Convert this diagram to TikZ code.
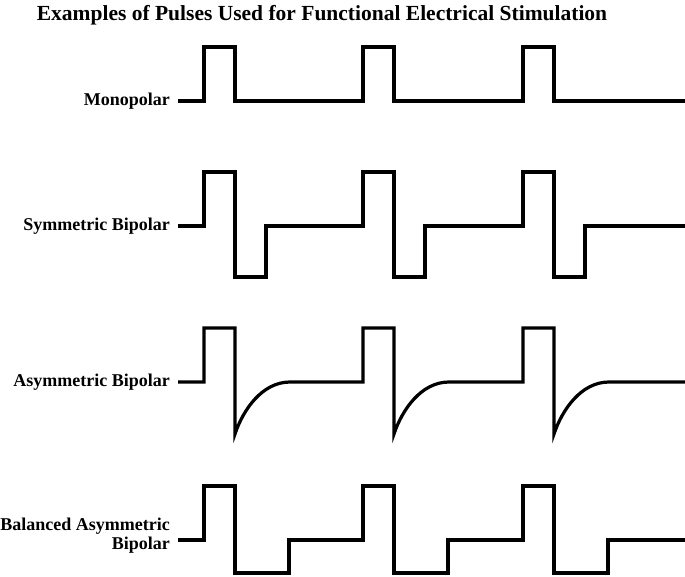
\documentclass[tikz,border=0pt]{standalone}
\usepackage{fontspec}
\setmainfont{Liberation Serif}
\usetikzlibrary{calc}

\tikzset{
  pulse/.style={line width=3.2pt, line join=miter},
  rowlabel/.style={anchor=east, font=\fontsize{18}{19}\selectfont\bfseries, inner sep=0pt, align=right}
}

\begin{document}
\begin{tikzpicture}[x=1pt,y=-1pt]
    \useasboundingbox (0,0) rectangle (685,576);
    \node[font=\fontsize{21.5}{23}\selectfont\bfseries] (title) at (322,15) {Examples of Pulses Used for Functional Electrical Stimulation};
    % labels
    \node[rowlabel] (mono) at (170,101) {Monopolar};
    \node[rowlabel] (symm) at (170,226) {Symmetric Bipolar};
    \node[rowlabel] (asym) at (170,382) {Asymmetric Bipolar};
    \node[rowlabel] (bal) at (170,536) {Balanced Asymmetric\\Bipolar};
    % monopolar
    \draw[pulse] (178,101) foreach \s in {204,363,523}{
        -- (\s,101) -- (\s,47) -- (\s+31,47) -- (\s+31,101)} -- (686,101);
    % symmetric bipolar
    \draw[pulse] (178,226) foreach \s in {204,363,523}{
        -- (\s,226) -- (\s,172) -- (\s+31,172) -- (\s+31,277) -- (\s+62,277) -- (\s+62,226)} -- (686,226);
    % asymmetric bipolar
    \draw[pulse] (178,382) foreach \s in {204,363,523}{
        -- (\s,382) -- (\s,328) -- (\s+31,328) -- (\s+31,434)
        .. controls (\s+39,410) and (\s+58,382) .. (\s+86,382)} -- (686,382);
    % balanced asymmetric bipolar
    \draw[pulse] (178,540) foreach \s in {204,363,523}{
        -- (\s,540) -- (\s,486) -- (\s+31,486) -- (\s+31,573) -- (\s+85,573) -- (\s+85,540)} -- (686,540);
\end{tikzpicture}
\end{document}
